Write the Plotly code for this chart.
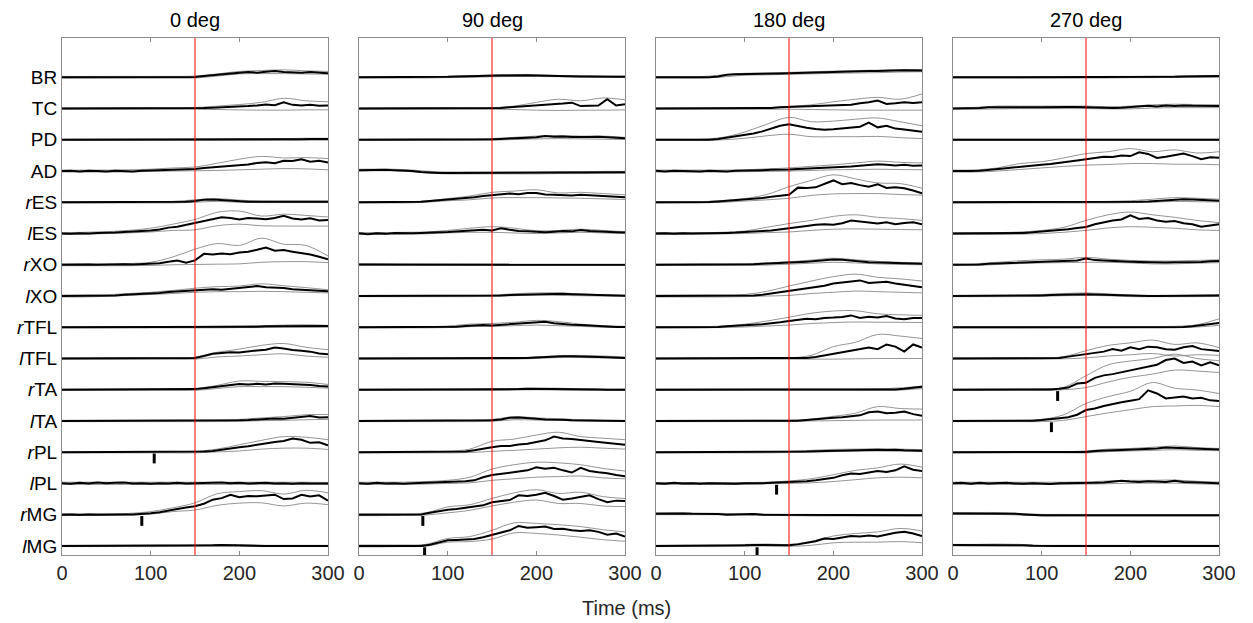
import plotly.graph_objects as go

# ---------------- data ----------------
MUSCLES = ["BR", "TC", "PD", "AD", "rES", "lES", "rXO", "lXO",
           "rTFL", "lTFL", "rTA", "lTA", "rPL", "lPL", "rMG", "lMG"]
MUSCLE_LABELS = ["BR", "TC", "PD", "AD", "<i>r</i>ES", "<i>l</i>ES", "<i>r</i>XO", "<i>l</i>XO",
                 "<i>r</i>TFL", "<i>l</i>TFL", "<i>r</i>TA", "<i>l</i>TA", "<i>r</i>PL", "<i>l</i>PL",
                 "<i>r</i>MG", "<i>l</i>MG"]
PANELS = ["0 deg", "90 deg", "180 deg", "270 deg"]
T_MEAN = list(range(0, 301, 10))      # ms, sample times of mean traces
T_ENV = list(range(0, 301, 25))       # ms, sample times of +/- SD envelopes
PERTURBATION_MS = 150
X_TICKS = [0, 100, 200, 300]

MEAN_0 = [
    [0,0,0,0.01,0,0,0,0,0,0, 0,0,0,0,0,0.01,0.04,0.07,0.1,0.14, 0.15,0.17,0.15,0.18,0.2,0.17,0.16,0.15,0.17,0.14, 0.13],
    [0,0,0,0,0,0,0,0,0,0, 0,0,0,0,0.01,0.01,0.02,0.03,0.04,0.06, 0.05,0.08,0.1,0.13,0.11,0.2,0.12,0.1,0.12,0.09, 0.1],
    [0,0,0,0,0,0,0,0,0,0, 0,0,0,0,0,0,0,0,0,0, 0,0.01,0.01,0.01,0.01,0.02,0.02,0.02,0.03,0.03, 0.03],
    [0,0.01,-0.01,0.01,0,-0.01,0.01,0,-0.01,0.01, 0.02,0.04,0.05,0.06,0.05,0.07,0.1,0.12,0.14,0.17, 0.19,0.21,0.26,0.28,0.25,0.33,0.32,0.38,0.3,0.33, 0.27],
    [0,0,0,0,0,0,0,0,0,0, 0,0,0,0.01,0.02,0.04,0.08,0.09,0.07,0.06, 0.03,0.02,0.02,0.02,0.01,0.01,0.01,0.02,0.02,0.02, 0.02],
    [0,-0.01,0.01,0,0.02,0.02,0.03,0.05,0.06,0.08, 0.1,0.13,0.19,0.22,0.28,0.32,0.4,0.45,0.52,0.5, 0.45,0.5,0.48,0.46,0.5,0.57,0.48,0.45,0.49,0.42, 0.43],
    [0,0.01,0,0.01,0,0.01,0.01,0.02,0.01,0.02, 0.02,0.05,0.1,0.14,0.07,0.14,0.35,0.33,0.36,0.34, 0.39,0.42,0.48,0.55,0.45,0.47,0.42,0.38,0.33,0.26, 0.18],
    [0,0,0.01,0,0,0.01,0.02,0.04,0.05,0.07, 0.08,0.1,0.13,0.15,0.17,0.19,0.2,0.22,0.2,0.23, 0.25,0.3,0.32,0.28,0.27,0.26,0.22,0.21,0.2,0.17, 0.15],
    [0,0,0,0,0,0,0,0,0,0, 0,0,0,0,0,0,0.01,0.01,0.01,0.02, 0.02,0.02,0.02,0.03,0.03,0.04,0.05,0.05,0.04,0.04, 0.04],
    [0,0,0,0,0,0,0,0,0,0, 0,0,0,0,0,0.02,0.08,0.15,0.18,0.2, 0.19,0.23,0.26,0.28,0.35,0.32,0.27,0.25,0.22,0.16, 0.14],
    [0,0,0,0,0,0,0,0,0,0, 0,0,0,0,0.01,0.02,0.05,0.08,0.12,0.16, 0.18,0.17,0.19,0.17,0.2,0.19,0.18,0.16,0.15,0.12, 0.1],
    [0,0,0,0.01,0,0,0,0,0,0, 0,0,0,0,0,0,0,0,0,0.01, 0.02,0.03,0.05,0.06,0.08,0.07,0.1,0.12,0.16,0.11, 0.12],
    [0,0,0,0,0,0,0,0,0,0, 0,0,0,0,0.01,0.01,0.02,0.04,0.08,0.14, 0.16,0.19,0.24,0.3,0.33,0.36,0.44,0.4,0.3,0.32, 0.22],
    [0.01,-0.01,0.02,0,0.03,0.01,0.02,0.03,0,0.01, -0.01,0.01,0,0.02,0,0.01,0.02,0.01,0.03,0.01, 0.02,0,0.01,0.02,0,0.01,-0.01,0.01,0,0.01, 0],
    [0,0.01,-0.01,0.01,0,0.01,0,0.01,0.01,0.02, 0.05,0.08,0.12,0.18,0.23,0.27,0.35,0.48,0.53,0.64, 0.56,0.6,0.59,0.62,0.64,0.5,0.52,0.64,0.58,0.62, 0.45],
    [0,0,0.01,0,0,0,0,0,0,0, 0,0,0,0,0.01,0.01,0.02,0.02,0.03,0.02, 0.02,0.01,0.01,0,0,0,0,0,0,0, 0],
]
UPPER_0 = [
    [0.03,0.03,0.03,0.03,0.03,0.03,0.04,0.11,0.19,0.22,0.24,0.21,0.19],
    [0.02,0.02,0.02,0.02,0.02,0.02,0.03,0.08,0.13,0.2,0.33,0.25,0.22],
    [0.02,0.02,0.02,0.02,0.02,0.02,0.02,0.02,0.03,0.03,0.04,0.05,0.05],
    [0.03,0.03,0.03,0.04,0.06,0.1,0.13,0.25,0.38,0.47,0.42,0.43,0.4],
    [0.02,0.02,0.02,0.02,0.02,0.03,0.08,0.12,0.07,0.04,0.04,0.04,0.04],
    [0.03,0.04,0.06,0.1,0.17,0.3,0.45,0.68,0.72,0.56,0.62,0.58,0.53],
    [0.03,0.03,0.03,0.04,0.08,0.25,0.5,0.68,0.62,0.85,0.66,0.62,0.28],
    [0.03,0.03,0.04,0.08,0.12,0.18,0.25,0.3,0.32,0.39,0.33,0.27,0.2],
    [0.02,0.02,0.02,0.02,0.02,0.02,0.02,0.03,0.04,0.05,0.07,0.08,0.06],
    [0.02,0.02,0.02,0.02,0.02,0.02,0.04,0.2,0.3,0.42,0.48,0.36,0.28],
    [0.02,0.02,0.02,0.02,0.02,0.02,0.04,0.14,0.28,0.27,0.26,0.24,0.17],
    [0.02,0.02,0.02,0.02,0.02,0.02,0.02,0.03,0.05,0.1,0.14,0.2,0.21],
    [0.02,0.02,0.02,0.02,0.02,0.02,0.03,0.1,0.24,0.38,0.5,0.48,0.4],
    [0.04,0.04,0.04,0.04,0.04,0.04,0.04,0.04,0.04,0.04,0.04,0.04,0.03],
    [0.03,0.03,0.03,0.04,0.1,0.22,0.38,0.67,0.74,0.77,0.66,0.78,0.7],
    [0.02,0.02,0.02,0.02,0.02,0.02,0.03,0.04,0.04,0.02,0.02,0.02,0.02],
]
LOWER_0 = [
    [-0.02,-0.02,-0.02,-0.02,-0.02,-0.02,-0.02,0.04,0.11,0.12,0.12,0.11,0.1],
    [-0.02,-0.02,-0.02,-0.02,-0.02,-0.02,-0.02,-0.03,-0.04,-0.05,-0.05,-0.04,-0.04],
    [-0.02,-0.02,-0.02,-0.02,-0.02,-0.02,-0.02,-0.02,-0.02,-0.02,-0.01,-0.01,-0.01],
    [-0.03,-0.03,-0.03,-0.03,-0.01,0,0.01,0.02,0.04,0.06,0.08,0.07,0.04],
    [-0.02,-0.02,-0.02,-0.02,-0.02,-0.02,0,0.03,0,-0.01,-0.01,-0.01,-0.01],
    [-0.03,-0.02,0,0.02,0.05,0.1,0.12,0.25,0.3,0.25,0.24,0.24,0.24],
    [-0.03,-0.03,-0.03,-0.03,-0.02,0,0.01,0.02,0.03,0.08,0.1,0.1,0.07],
    [-0.03,-0.03,-0.01,0.02,0.05,0.08,0.12,0.14,0.14,0.15,0.14,0.12,0.1],
    [-0.02,-0.02,-0.02,-0.02,-0.02,-0.02,-0.02,-0.02,-0.01,-0.01,0,0,0],
    [-0.02,-0.02,-0.02,-0.02,-0.02,-0.02,-0.02,0.05,0.08,0.12,0.15,0.08,0.04],
    [-0.02,-0.02,-0.02,-0.02,-0.02,-0.02,-0.02,0.04,0.1,0.1,0.1,0.08,0.05],
    [-0.02,-0.02,-0.02,-0.02,-0.02,-0.02,-0.02,-0.02,-0.01,0.01,0.02,0.04,0.05],
    [-0.02,-0.02,-0.02,-0.02,-0.02,-0.02,-0.02,0.01,0.04,0.1,0.13,0.13,0.09],
    [-0.03,-0.03,-0.03,-0.03,-0.03,-0.03,-0.03,-0.03,-0.03,-0.03,-0.03,-0.03,-0.03],
    [-0.03,-0.02,-0.02,-0.01,0.02,0.1,0.15,0.3,0.37,0.38,0.28,0.37,0.32],
    [-0.02,-0.02,-0.02,-0.02,-0.02,-0.02,-0.01,-0.01,-0.01,-0.02,-0.02,-0.02,-0.02],
]

MEAN_90 = [
    [0,0,0,0,0,0,0,0,0,0.01, 0.02,0.03,0.04,0.05,0.05,0.06,0.06,0.06,0.07,0.07, 0.06,0.05,0.05,0.04,0.04,0.03,0.03,0.02,0.02,0.02, 0.02],
    [0,0,0,0,0,0,0,0,0,0, 0,0,0,0,0,0,0.02,0.04,0.06,0.07, 0.08,0.1,0.12,0.16,0.19,0.08,0.09,0.1,0.3,0.1, 0.14],
    [0,0,0,0,0,0,0,0,0,0, 0,0,0,0,0,0.02,0.03,0.05,0.06,0.07, 0.08,0.12,0.1,0.11,0.09,0.08,0.09,0.1,0.08,0.06, 0.05],
    [0.03,0.04,0.03,0.04,0.03,0.02,0,-0.03,-0.05,-0.06, -0.06,-0.06,-0.06,-0.06,-0.06,-0.06,-0.06,-0.06,-0.06,-0.06, -0.06,-0.05,-0.05,-0.05,-0.05,-0.05,-0.05,-0.04,-0.04,-0.04, -0.04],
    [0,0,0,0,0,0,0,0.02,0.04,0.06, 0.08,0.1,0.13,0.16,0.2,0.23,0.25,0.28,0.26,0.3, 0.3,0.25,0.24,0.23,0.22,0.24,0.23,0.2,0.2,0.18, 0.16],
    [0.01,-0.02,0.01,-0.01,0.02,0.01,0.01,0.02,0.02,0.04, 0.05,0.07,0.09,0.1,0.12,0.1,0.17,0.12,0.08,0.07, 0.05,0.04,0.06,0.08,0.07,0.11,0.08,0.06,0.05,0.04, 0.03],
    [0.01,0.01,0,0.01,0,0,0,0,0,0, 0,0,0,0,0,0,0,0,0,0, 0,0,0,0,0,0,0,0,0,0, 0],
    [0,0,0,0,0,0,0,0,0,0, 0,0,0,0,0,0.01,0.02,0.03,0.04,0.05, 0.06,0.07,0.08,0.07,0.06,0.05,0.04,0.03,0.02,0.01, 0.01],
    [0,0,0,0,0,0,0,0,0,0, 0.01,0.02,0.04,0.06,0.07,0.06,0.08,0.1,0.12,0.13, 0.14,0.18,0.13,0.1,0.08,0.07,0.05,0.03,0.02,0.01, 0.01],
    [0,0,0,0,0,0,0,0,0,0, 0,0,0,0,0,0,0,0,0,0.02, 0.03,0.05,0.06,0.07,0.07,0.07,0.06,0.05,0.04,0.03, 0.02],
    [0,0,0,0,0,0,0,0,0,0, 0,0,0,0,0,0.01,0.01,0.02,0.02,0.03, 0.03,0.03,0.03,0.02,0.02,0.01,0.01,0.01,0,0, 0],
    [0,0,0,0,0,0,0,0,0,0, 0,0,0,0,0.01,0.02,0.05,0.1,0.11,0.08, 0.07,0.05,0.05,0.04,0.02,0.02,0.01,0,0,0, 0],
    [0,0,0,0,0,0,0,0,0,0, 0,0,0.02,0.06,0.12,0.16,0.2,0.2,0.25,0.27, 0.33,0.38,0.5,0.44,0.42,0.4,0.36,0.33,0.3,0.26, 0.24],
    [0.01,-0.01,0.02,0,0.01,-0.01,0.01,0.02,0.02,0.03, 0.04,0.05,0.07,0.1,0.2,0.27,0.3,0.33,0.38,0.42, 0.52,0.47,0.5,0.42,0.35,0.5,0.4,0.36,0.33,0.27, 0.23],
    [0,0,0,0,0,0,0,0.01,0.06,0.12, 0.16,0.18,0.22,0.24,0.3,0.4,0.43,0.47,0.62,0.6, 0.64,0.7,0.6,0.48,0.52,0.58,0.62,0.5,0.4,0.45, 0.44],
    [0,0,0,0,0,0,0,0,0.04,0.1, 0.18,0.19,0.2,0.22,0.28,0.35,0.42,0.5,0.64,0.58, 0.6,0.62,0.54,0.55,0.5,0.48,0.5,0.45,0.36,0.4, 0.3],
]
UPPER_90 = [
    [0.02,0.02,0.02,0.02,0.03,0.05,0.08,0.09,0.08,0.06,0.05,0.04,0.04],
    [0.02,0.02,0.02,0.02,0.02,0.02,0.03,0.08,0.2,0.3,0.25,0.34,0.28],
    [0.02,0.02,0.02,0.02,0.02,0.02,0.04,0.08,0.12,0.14,0.12,0.12,0.08],
    [0.06,0.06,0.05,0,-0.03,-0.03,-0.03,-0.03,-0.03,-0.02,-0.02,-0.01,-0.01],
    [0.02,0.02,0.02,0.04,0.12,0.2,0.32,0.36,0.4,0.3,0.32,0.28,0.24],
    [0.03,0.03,0.04,0.05,0.1,0.17,0.22,0.17,0.09,0.1,0.14,0.1,0.06],
    [0.03,0.03,0.02,0.02,0.02,0.02,0.02,0.02,0.02,0.02,0.02,0.02,0.02],
    [0.02,0.02,0.02,0.02,0.02,0.02,0.03,0.07,0.1,0.1,0.07,0.04,0.03],
    [0.02,0.02,0.02,0.02,0.04,0.1,0.12,0.16,0.22,0.18,0.1,0.05,0.03],
    [0.02,0.02,0.02,0.02,0.02,0.02,0.02,0.02,0.05,0.09,0.1,0.08,0.05],
    [0.02,0.02,0.02,0.02,0.02,0.02,0.03,0.04,0.05,0.05,0.03,0.02,0.02],
    [0.02,0.02,0.02,0.02,0.02,0.02,0.05,0.14,0.1,0.07,0.04,0.02,0.02],
    [0.02,0.02,0.02,0.02,0.03,0.1,0.35,0.42,0.55,0.64,0.5,0.45,0.4],
    [0.04,0.04,0.04,0.06,0.1,0.2,0.46,0.6,0.68,0.66,0.6,0.48,0.4],
    [0.03,0.03,0.03,0.06,0.25,0.32,0.52,0.7,0.8,0.68,0.72,0.58,0.52],
    [0.03,0.03,0.03,0.05,0.24,0.3,0.5,0.74,0.72,0.68,0.62,0.52,0.45],
]
LOWER_90 = [
    [-0.02,-0.02,-0.02,-0.02,-0.01,0,0.02,0.03,0.03,0.02,0.01,0,0],
    [-0.02,-0.02,-0.02,-0.02,-0.02,-0.02,-0.02,-0.03,-0.05,-0.06,-0.05,-0.05,-0.04],
    [-0.02,-0.02,-0.02,-0.02,-0.02,-0.02,-0.01,0.01,0.03,0.04,0.03,0.02,0.01],
    [0,0.01,0,-0.06,-0.09,-0.09,-0.09,-0.09,-0.09,-0.08,-0.08,-0.07,-0.07],
    [-0.02,-0.02,-0.02,0,0.05,0.08,0.14,0.15,0.15,0.14,0.13,0.11,0.09],
    [-0.03,-0.03,-0.02,-0.01,0.02,0.04,0.04,0.02,0,0.02,0.04,0.02,0],
    [-0.02,-0.02,-0.02,-0.02,-0.02,-0.02,-0.02,-0.02,-0.02,-0.02,-0.02,-0.02,-0.02],
    [-0.02,-0.02,-0.02,-0.02,-0.02,-0.02,-0.01,0.01,0.03,0.02,0.01,0,-0.01],
    [-0.02,-0.02,-0.02,-0.02,-0.01,0.02,0.03,0.05,0.07,0.05,0.03,0,-0.01],
    [-0.02,-0.02,-0.02,-0.02,-0.02,-0.02,-0.02,-0.02,0,0.03,0.03,0.02,0],
    [-0.02,-0.02,-0.02,-0.02,-0.02,-0.02,-0.02,-0.01,0,-0.01,-0.02,-0.02,-0.02],
    [-0.02,-0.02,-0.02,-0.02,-0.02,-0.02,-0.01,0.04,0.03,0.02,0,-0.01,-0.02],
    [-0.02,-0.02,-0.02,-0.02,-0.02,-0.01,0.03,0.06,0.1,0.14,0.16,0.13,0.1],
    [-0.03,-0.03,-0.03,-0.02,0,0.02,0.1,0.15,0.2,0.22,0.24,0.18,0.15],
    [-0.03,-0.03,-0.02,-0.01,0.06,0.14,0.28,0.4,0.47,0.36,0.36,0.28,0.26],
    [-0.03,-0.03,-0.02,-0.01,0.12,0.14,0.22,0.42,0.4,0.35,0.28,0.2,0.15],
]

MEAN_180 = [
    [0,0,0,0,0,0,0,0.03,0.08,0.1, 0.1,0.11,0.11,0.12,0.12,0.13,0.14,0.15,0.16,0.17, 0.17,0.18,0.18,0.19,0.2,0.2,0.2,0.22,0.23,0.22, 0.22],
    [0,0,0,0,0,0,0,0,0,0, 0,0,0,0.02,0.04,0.05,0.06,0.07,0.08,0.1, 0.1,0.13,0.12,0.17,0.2,0.26,0.15,0.17,0.2,0.18, 0.2],
    [0,0,0,0,0,0,0,0.03,0.07,0.11, 0.15,0.2,0.27,0.36,0.45,0.5,0.44,0.39,0.35,0.32, 0.34,0.36,0.4,0.42,0.55,0.4,0.45,0.36,0.33,0.3, 0.26],
    [0.01,-0.01,0.01,0,0.01,-0.01,0.01,0,-0.01,0.01, 0.01,0.02,0.03,0.04,0.04,0.05,0.07,0.08,0.1,0.11, 0.12,0.13,0.15,0.17,0.19,0.22,0.2,0.18,0.2,0.17, 0.18],
    [0,0,0,0,0,0,0.01,0.03,0.05,0.07, 0.09,0.12,0.14,0.18,0.2,0.24,0.47,0.46,0.48,0.6, 0.7,0.58,0.62,0.55,0.5,0.58,0.46,0.48,0.45,0.38, 0.29],
    [0,0.01,-0.01,0.01,0,0,0.01,0.01,0.02,0.03, 0.04,0.06,0.08,0.1,0.13,0.16,0.2,0.24,0.28,0.3, 0.28,0.33,0.42,0.38,0.35,0.32,0.36,0.3,0.34,0.36, 0.3],
    [0,0,0,0,0,0,0,0,0,0, 0.01,0.02,0.03,0.04,0.05,0.07,0.08,0.1,0.12,0.14, 0.17,0.16,0.13,0.1,0.08,0.07,0.06,0.05,0.04,0.03, 0.03],
    [0,0,0,0,0,0,0,0,0,0, 0,0.02,0.04,0.08,0.12,0.16,0.2,0.26,0.3,0.33, 0.4,0.43,0.48,0.5,0.42,0.44,0.46,0.4,0.35,0.32, 0.28],
    [0,0,0,0,0,0,0,0.01,0.03,0.04, 0.06,0.08,0.1,0.12,0.16,0.2,0.24,0.27,0.26,0.3, 0.31,0.33,0.38,0.3,0.34,0.31,0.36,0.28,0.26,0.3, 0.3],
    [0,0,0,0,0,0,0,0,0,0, 0,0,0,0,0,0,0,0.02,0.05,0.1, 0.15,0.2,0.25,0.28,0.35,0.3,0.45,0.38,0.22,0.45, 0.35],
    [0,0,0,0,0,0,0,0,0,0, 0,0,0,0,0,0,0,0,0,0, 0,0,0,0,0,0,0,0.01,0.03,0.06, 0.1],
    [0,0,0,0,0,0,0,0,0,0, 0,0,0,0,0,0,0.01,0.03,0.06,0.08, 0.1,0.12,0.15,0.18,0.28,0.3,0.25,0.26,0.3,0.22, 0.17],
    [0,0,0,0,0,0,0,0,0,0, 0,0,0,0,0,0,0.01,0.02,0.03,0.04, 0.05,0.06,0.06,0.07,0.07,0.08,0.07,0.08,0.06,0.05, 0.05],
    [0.01,-0.01,0.02,0,0.01,-0.01,0.01,0,0.01,-0.01, 0.01,0,0.01,0.02,0.03,0.04,0.05,0.07,0.1,0.14, 0.18,0.26,0.32,0.3,0.35,0.4,0.37,0.42,0.55,0.44, 0.4],
    [0.03,0.04,0.03,0.04,0.03,0.03,0.02,0.02,0,0.01, 0.01,0.02,0,0,-0.01,-0.01,-0.01,-0.01,-0.02,-0.02, -0.02,-0.02,-0.02,-0.02,-0.02,-0.02,-0.02,-0.02,-0.02,-0.02, -0.02],
    [0,0,0,0,0,0,0,0,0,0.01, 0.02,0.03,0.03,0.03,0.02,0.02,0.05,0.09,0.15,0.24, 0.22,0.27,0.32,0.3,0.33,0.3,0.36,0.42,0.45,0.4, 0.32],
]
UPPER_180 = [
    [0.02,0.02,0.02,0.08,0.13,0.14,0.16,0.18,0.2,0.22,0.23,0.25,0.25],
    [0.02,0.02,0.02,0.02,0.02,0.03,0.07,0.12,0.22,0.3,0.36,0.3,0.47],
    [0.02,0.02,0.02,0.08,0.25,0.5,0.72,0.58,0.6,0.66,0.7,0.58,0.45],
    [0.03,0.03,0.03,0.03,0.04,0.07,0.1,0.15,0.2,0.26,0.32,0.28,0.26],
    [0.02,0.02,0.02,0.06,0.12,0.25,0.5,0.7,0.88,0.75,0.62,0.6,0.45],
    [0.03,0.03,0.03,0.04,0.08,0.2,0.32,0.42,0.55,0.6,0.52,0.48,0.42],
    [0.02,0.02,0.02,0.02,0.03,0.06,0.1,0.15,0.21,0.16,0.11,0.08,0.06],
    [0.03,0.03,0.03,0.03,0.05,0.15,0.32,0.48,0.62,0.7,0.6,0.55,0.48],
    [0.02,0.02,0.02,0.04,0.1,0.2,0.32,0.45,0.52,0.53,0.43,0.4,0.38],
    [0.02,0.02,0.02,0.02,0.02,0.02,0.02,0.1,0.38,0.52,0.77,0.72,0.64],
    [0.02,0.02,0.02,0.02,0.02,0.02,0.02,0.02,0.02,0.02,0.03,0.06,0.12],
    [0.02,0.02,0.02,0.02,0.02,0.02,0.02,0.06,0.15,0.25,0.46,0.4,0.38],
    [0.02,0.02,0.02,0.02,0.02,0.02,0.03,0.06,0.09,0.1,0.11,0.1,0.08],
    [0.03,0.03,0.03,0.03,0.03,0.04,0.08,0.15,0.28,0.42,0.5,0.62,0.52],
    [0.06,0.06,0.05,0.04,0.03,0.02,0.01,0.01,0,0,0,0,0],
    [0.02,0.02,0.02,0.02,0.05,0.06,0.05,0.15,0.32,0.4,0.45,0.56,0.48],
]
LOWER_180 = [
    [-0.02,-0.02,-0.02,0.01,0.07,0.08,0.1,0.11,0.13,0.14,0.15,0.17,0.18],
    [-0.02,-0.02,-0.02,-0.02,-0.02,-0.02,-0.02,-0.03,-0.04,-0.05,-0.05,-0.05,-0.05],
    [-0.02,-0.02,-0.02,0,0.05,0.13,0.18,0.1,0.1,0.1,0.11,0.07,0.04],
    [-0.03,-0.03,-0.03,-0.03,-0.02,-0.01,0,0.02,0.04,0.05,0.06,0.05,0.04],
    [-0.02,-0.02,-0.02,0,0.04,0.08,0.13,0.22,0.27,0.28,0.28,0.25,0.23],
    [-0.03,-0.03,-0.02,-0.01,0,0.03,0.05,0.1,0.14,0.15,0.14,0.13,0.12],
    [-0.02,-0.02,-0.02,-0.02,-0.02,-0.01,0.02,0.05,0.08,0.06,0.03,0.01,0],
    [-0.03,-0.03,-0.03,-0.03,-0.02,0,0.02,0.08,0.12,0.16,0.14,0.12,0.1],
    [-0.02,-0.02,-0.02,-0.01,0.01,0.04,0.07,0.12,0.15,0.17,0.16,0.16,0.15],
    [-0.02,-0.02,-0.02,-0.02,-0.02,-0.02,-0.02,-0.02,-0.02,-0.01,0,0,0],
    [-0.02,-0.02,-0.02,-0.02,-0.02,-0.02,-0.02,-0.02,-0.02,-0.02,-0.02,-0.01,0.04],
    [-0.02,-0.02,-0.02,-0.02,-0.02,-0.02,-0.02,0,0.01,0.02,0.03,0.03,0.03],
    [-0.02,-0.02,-0.02,-0.02,-0.02,-0.02,-0.01,0,0.02,0.03,0.04,0.03,0.02],
    [-0.03,-0.03,-0.03,-0.03,-0.03,-0.01,0,0.02,0.06,0.12,0.18,0.2,0.18],
    [0,0,0,0,-0.01,-0.02,-0.03,-0.04,-0.04,-0.04,-0.04,-0.04,-0.04],
    [-0.02,-0.02,-0.02,-0.02,-0.01,0,-0.01,0.02,0.1,0.12,0.12,0.14,0.1],
]

MEAN_270 = [
    [0,0,0,0,0,0,0,0,0,0, 0,0,0,0,0,0,0,0,0.01,0.01, 0.01,0.01,0.01,0.02,0.02,0.02,0.03,0.03,0.03,0.04, 0.04],
    [0,0,0.01,0.02,0.04,0.05,0.04,0.04,0.05,0.04, 0.04,0.05,0.04,0.05,0.05,0.04,0.04,0.03,0.02,0.03, 0.05,0.08,0.09,0.07,0.1,0.08,0.1,0.09,0.08,0.07, 0.08],
    [0,0,0,0,0,0,0,0,0,0, 0,0,0,0,0,0,0,0,0,0, 0,0,0,0,0,0,0,0,0,0, 0],
    [0,-0.01,0,0.01,0.03,0.06,0.09,0.12,0.14,0.17, 0.2,0.23,0.26,0.3,0.34,0.38,0.42,0.46,0.45,0.5, 0.48,0.6,0.55,0.42,0.46,0.52,0.56,0.48,0.38,0.44, 0.43],
    [0,0,0,0,0,0,0,0,0,0, 0,0,0,0,0,0,0,0,0,0, 0.01,0.02,0.03,0.05,0.07,0.09,0.1,0.09,0.07,0.06, 0.05],
    [0,0,0.01,0,0,0,0,0.01,0.02,0.04, 0.06,0.08,0.1,0.14,0.18,0.21,0.3,0.36,0.42,0.45, 0.58,0.47,0.5,0.42,0.38,0.4,0.33,0.3,0.22,0.26, 0.3],
    [0,0,0,0.01,0.03,0.04,0.05,0.07,0.08,0.1, 0.11,0.12,0.13,0.12,0.14,0.2,0.15,0.14,0.12,0.11, 0.1,0.09,0.08,0.07,0.07,0.08,0.08,0.1,0.09,0.11, 0.12],
    [0,0,0,0,0,0,0,0,0,0, 0.02,0.03,0.04,0.05,0.06,0.06,0.05,0.04,0.02,0.01, 0,0,0,0,0,0,0,0,0.01,0.02, 0.02],
    [0,0,0,0,0,0,0,0,0,0, 0,0,0,0,0,0,0,0,0,0, 0,0,0,0,0,0,0.01,0.03,0.06,0.09, 0.14],
    [0,0,0,0,0,0,0,0,0,0, 0,0,0.02,0.06,0.1,0.14,0.18,0.22,0.3,0.25, 0.36,0.3,0.38,0.36,0.3,0.28,0.36,0.4,0.3,0.26, 0.24],
    [0,0,0,0,0,0,0,0,0,0, 0,0.01,0.03,0.07,0.2,0.22,0.38,0.46,0.5,0.56, 0.6,0.66,0.72,0.8,0.95,1.0,0.86,0.9,0.78,0.88, 0.78],
    [0,0,0,0,0,0,0,0,0,0.01, 0.03,0.05,0.09,0.12,0.2,0.35,0.4,0.48,0.55,0.6, 0.65,0.7,0.98,0.88,0.72,0.74,0.78,0.72,0.74,0.66, 0.64],
    [0,0,0,0,0,0,0,0,0,0, 0,0,0,0,0,0.01,0.04,0.06,0.06,0.07, 0.08,0.09,0.1,0.12,0.15,0.14,0.12,0.11,0.1,0.09, 0.09],
    [0.01,0.02,-0.01,0.02,0,0.01,0.02,0,-0.01,0.01, -0.01,-0.02,0.01,0.01,0,0.01,0.02,0.03,0.05,0.09, 0.06,0.05,0.07,0.06,0.05,0.09,0.05,0.04,0.03,0.02, 0.01],
    [0.04,0.04,0.04,0.04,0.05,0.05,0.04,0.03,0.01,-0.01, -0.02,-0.02,-0.02,-0.02,-0.02,-0.02,-0.02,-0.02,-0.02,-0.02, -0.02,-0.02,-0.02,-0.02,-0.02,-0.02,-0.02,-0.02,-0.02,-0.02, -0.02],
    [0.03,0.03,0.03,0.03,0.04,0.04,0.03,0.03,0.02,0.01, 0,0,0,0,0,0,0,0,0,0, 0,0,0,0,0,0,0,0,0,0, 0],
]
UPPER_270 = [
    [0.02,0.02,0.02,0.02,0.02,0.02,0.02,0.03,0.03,0.04,0.04,0.05,0.06],
    [0.02,0.04,0.08,0.08,0.08,0.08,0.08,0.06,0.08,0.12,0.14,0.13,0.12],
    [0.02,0.02,0.02,0.02,0.02,0.02,0.02,0.02,0.02,0.02,0.02,0.02,0.02],
    [0.03,0.04,0.1,0.24,0.3,0.42,0.56,0.62,0.72,0.62,0.68,0.58,0.62],
    [0.02,0.02,0.02,0.02,0.02,0.02,0.02,0.03,0.05,0.1,0.15,0.13,0.1],
    [0.03,0.03,0.03,0.05,0.1,0.2,0.42,0.6,0.69,0.6,0.52,0.42,0.35],
    [0.02,0.03,0.08,0.13,0.16,0.18,0.24,0.18,0.14,0.12,0.12,0.14,0.16],
    [0.02,0.02,0.02,0.02,0.05,0.08,0.1,0.07,0.03,0.02,0.02,0.03,0.04],
    [0.02,0.02,0.02,0.02,0.02,0.02,0.02,0.02,0.02,0.02,0.03,0.08,0.27],
    [0.02,0.02,0.02,0.02,0.02,0.06,0.25,0.42,0.5,0.59,0.45,0.5,0.35],
    [0.02,0.02,0.02,0.02,0.03,0.08,0.45,0.8,0.92,1.0,1.14,1.0,0.93],
    [0.02,0.02,0.02,0.02,0.05,0.2,0.56,0.78,0.95,1.23,1.05,0.99,0.88],
    [0.02,0.02,0.02,0.02,0.02,0.02,0.04,0.1,0.12,0.16,0.2,0.15,0.12],
    [0.04,0.04,0.04,0.04,0.04,0.04,0.05,0.08,0.1,0.1,0.11,0.07,0.04],
    [0.07,0.07,0.07,0.04,0.01,0.01,0,0,0,0,0,0,0],
    [0.05,0.05,0.06,0.05,0.02,0.02,0.02,0.02,0.02,0.02,0.02,0.02,0.02],
]
LOWER_270 = [
    [-0.02,-0.02,-0.02,-0.02,-0.02,-0.02,-0.02,-0.02,-0.01,-0.01,0,0,0],
    [-0.02,-0.02,-0.01,0,0,0,0,-0.01,-0.01,0.02,0.03,0.03,0.03],
    [-0.02,-0.02,-0.02,-0.02,-0.02,-0.02,-0.02,-0.02,-0.02,-0.02,-0.02,-0.02,-0.02],
    [-0.03,-0.03,0,0.05,0.1,0.15,0.19,0.21,0.24,0.24,0.22,0.22,0.2],
    [-0.02,-0.02,-0.02,-0.02,-0.02,-0.02,-0.02,-0.02,-0.01,0,0.03,0.02,0.01],
    [-0.03,-0.03,-0.03,-0.02,0,0.04,0.1,0.18,0.22,0.2,0.17,0.12,0.1],
    [-0.02,-0.02,0.01,0.04,0.06,0.07,0.08,0.08,0.06,0.03,0.03,0.05,0.07],
    [-0.02,-0.02,-0.02,-0.02,-0.01,0.01,0.02,0.01,-0.02,-0.02,-0.02,-0.02,-0.01],
    [-0.02,-0.02,-0.02,-0.02,-0.02,-0.02,-0.02,-0.02,-0.02,-0.02,-0.02,0.01,0.06],
    [-0.02,-0.02,-0.02,-0.02,-0.02,-0.01,0.02,0.08,0.12,0.16,0.08,0.12,0.1],
    [-0.02,-0.02,-0.02,-0.02,-0.02,0,0.07,0.25,0.4,0.5,0.63,0.6,0.55],
    [-0.02,-0.02,-0.02,-0.02,-0.02,0.02,0.14,0.26,0.36,0.46,0.48,0.5,0.46],
    [-0.02,-0.02,-0.02,-0.02,-0.02,-0.02,-0.02,0.02,0.04,0.06,0.08,0.06,0.05],
    [-0.03,-0.03,-0.03,-0.03,-0.03,-0.03,-0.02,-0.01,0.01,0.01,0.01,-0.01,-0.03],
    [0.01,0.01,0.01,-0.01,-0.04,-0.04,-0.04,-0.04,-0.04,-0.04,-0.04,-0.04,-0.04],
    [0,0,0,0,-0.02,-0.02,-0.02,-0.02,-0.02,-0.02,-0.02,-0.02,-0.02],
]

# EMG onset markers (muscle, time in ms)
ONSET_MUSCLES = [["rPL", "rMG"], ["rMG", "lMG"], ["lPL", "lMG"], ["rTA", "lTA"]]
ONSET_TIMES = [[104, 90], [72, 74], [136, 114], [118, 111]]

MEANS = [MEAN_0, MEAN_90, MEAN_180, MEAN_270]
UPPERS = [UPPER_0, UPPER_90, UPPER_180, UPPER_270]
LOWERS = [LOWER_0, LOWER_90, LOWER_180, LOWER_270]

for grp in MEANS:
    assert len(grp) == 16 and all(len(r) == len(T_MEAN) for r in grp)
for grp in UPPERS + LOWERS:
    assert len(grp) == 16 and all(len(r) == len(T_ENV) for r in grp)

# ---------------- layout constants ----------------
W, H = 1253, 623
FONT = "Arial, 'Liberation Sans', Helvetica, sans-serif"
PANEL_X = [(62, 328), (359, 625), (656, 922), (953, 1219)]
PLOT_TOP, PLOT_BOTTOM = 38, 555
N = len(MUSCLES)
baseline = {m: N - k for k, m in enumerate(MUSCLES)}
Y_RANGE = [0.71, 17.26]
ONSET_DROP = 0.2
AXIS_GREY = "#8c8c8c"

fig = go.Figure()
layout = dict(
    template="none",
    width=W, height=H, autosize=False, margin=dict(l=0, r=0, t=0, b=0, pad=0),
    paper_bgcolor="white", plot_bgcolor="white", showlegend=False,
    font=dict(family=FONT, color="black"), hovermode=False,
)
shapes, annotations = [], []

for p, title in enumerate(PANELS):
    sfx = "" if p == 0 else str(p + 1)
    xa, ya = "x" + sfx, "y" + sfx
    for k, m in enumerate(MUSCLES):
        b = baseline[m]
        for env in (UPPERS[p][k], LOWERS[p][k]):
            fig.add_trace(go.Scatter(
                x=T_ENV, y=[b + v for v in env], mode="lines",
                line=dict(color="#7a7a7a", width=0.8, shape="spline", smoothing=1.0),
                xaxis=xa, yaxis=ya, hoverinfo="skip"))
        fig.add_trace(go.Scatter(
            x=T_MEAN, y=[b + v for v in MEANS[p][k]], mode="lines",
            line=dict(color="black", width=2),
            xaxis=xa, yaxis=ya, hoverinfo="skip"))
    fig.add_trace(go.Scatter(
        x=ONSET_TIMES[p], y=[baseline[m] - ONSET_DROP for m in ONSET_MUSCLES[p]],
        mode="markers",
        marker=dict(symbol="line-ns", size=7, line=dict(color="black", width=3)),
        xaxis=xa, yaxis=ya, hoverinfo="skip"))

    x0, x1 = PANEL_X[p]
    layout["xaxis" + sfx] = dict(
        domain=[x0 / W, x1 / W], range=[0, 300], anchor=ya, automargin=False,
        tickmode="array", tickvals=X_TICKS, ticks="inside", ticklen=4, tickcolor=AXIS_GREY,
        tickwidth=1, showline=True, linecolor=AXIS_GREY, linewidth=1, mirror="ticks",
        showgrid=False, zeroline=False,
        tickfont=dict(size=20, color="#262626", family=FONT))
    layout["yaxis" + sfx] = dict(
        domain=[1 - PLOT_BOTTOM / H, 1 - PLOT_TOP / H], range=Y_RANGE, anchor=xa,
        automargin=False, tickmode="array",
        tickvals=[baseline[m] for m in MUSCLES], ticktext=MUSCLE_LABELS,
        showticklabels=(p == 0), ticks="",
        showline=True, linecolor=AXIS_GREY, linewidth=1, mirror=True,
        showgrid=False, zeroline=False,
        tickfont=dict(size=19, color="black", family=FONT))
    shapes.append(dict(type="line", xref=xa, yref=ya + " domain",
                       x0=PERTURBATION_MS, x1=PERTURBATION_MS, y0=0, y1=1,
                       line=dict(color="red", width=1)))
    annotations.append(dict(text=title, xref=xa + " domain", x=0.5, yref="paper",
                            y=1 - 20 / H, showarrow=False, xanchor="center", yanchor="middle",
                            font=dict(size=20, color="black", family=FONT)))

annotations.append(dict(text="Time (ms)", xref="paper", x=626 / W, yref="paper",
                        y=1 - 608 / H, showarrow=False, xanchor="center", yanchor="middle",
                        font=dict(size=20, color="#262626", family=FONT)))
layout["shapes"] = shapes
layout["annotations"] = annotations
fig.update_layout(**layout)
fig.write_html(
    "out.html",
    config={"displayModeBar": False, "responsive": False},
    default_width=f"{W}px", default_height=f"{H}px",
    post_script="document.body.style.margin='0';document.body.style.padding='0';"
                "document.documentElement.style.overflow='hidden';",
)
